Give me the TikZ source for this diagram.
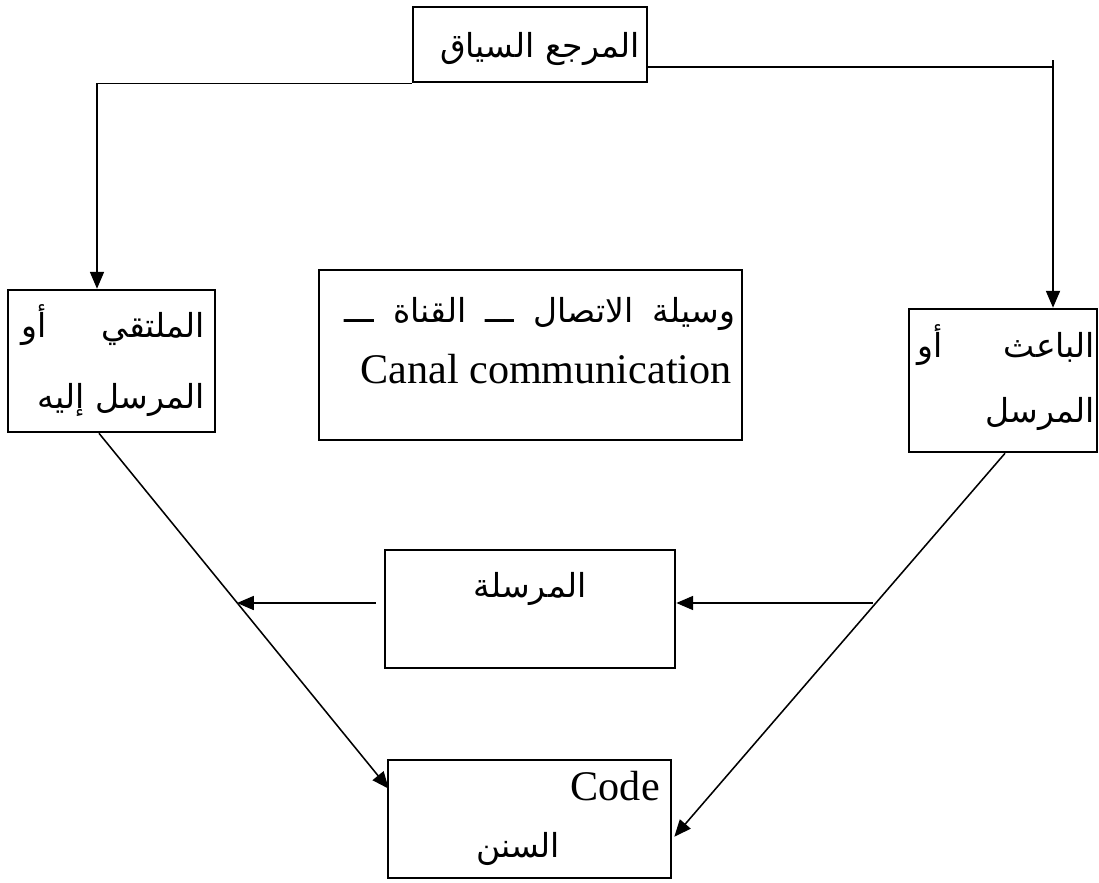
\documentclass[tikz,border=0pt]{standalone}
\usepackage{fontspec}
\setmainfont{Liberation Serif}
\newfontfamily\arabicfont[Script=Arabic]{DejaVu Sans}
\TeXXeTstate=1
\usetikzlibrary{arrows.meta}

\begin{document}
\begin{tikzpicture}[x=0.025cm,y=-0.025cm]
          \tikzstyle{box}=[draw,line width=1.8pt,inner sep=0pt]
          \tikzstyle{edge}=[draw,line width=1.1pt]
          \tikzstyle{aedge}=[edge,-{Triangle[length=12pt,width=10pt]}]
          \tikzstyle{ar}=[font=\arabicfont\fontsize{23.5}{28}\selectfont,inner sep=0pt]
          \tikzstyle{lat}=[font=\fontsize{30}{34}\selectfont,inner sep=0pt]
          \useasboundingbox (0,0) rectangle (1099,882);
          % boxes
          \node[box,minimum width=5.85cm,minimum height=1.875cm] (ctx) at (530,44.5) {};
          \node[box,minimum width=5.175cm,minimum height=3.55cm] (recv) at (111.5,361) {};
          \node[box,minimum width=10.575cm,minimum height=4.25cm] (chan) at (530.5,355) {};
          \node[box,minimum width=4.7cm,minimum height=3.575cm] (send) at (1003,380.5) {};
          \node[box,minimum width=7.25cm,minimum height=2.95cm] (msg) at (530,609) {};
          \node[box,minimum width=7.075cm,minimum height=2.95cm] (code) at (529.5,819) {};
          % texts
          \node[ar,anchor=base] (ctxt) at (540,57) {\beginR المرجع السياق\endR};
          \node[ar,anchor=base] (recv1) at (113.5,337) {\hbox to 4.575cm{\beginR الملتقي\hfill أو\endR}};
          \node[ar,anchor=base east] (recv2) at (205,408) {\beginR المرسل إليه\endR};
          \node[ar,anchor=base] (send1) at (1006.5,357) {\hbox to 4.425cm{\beginR الباعث\hfill أو\endR}};
          \node[ar,anchor=base east] (send2) at (1095,422) {\beginR المرسل\endR};
          \node[ar,anchor=base] (chan1) at (540,322) {\hbox to 9.75cm{\beginR وسيلة\hfill الاتصال\hfill ـــ\hfill القناة\hfill ـــ\endR}};
          \node[lat,anchor=base east] (chan2) at (732,383) {Canal communication};
          \node[ar,anchor=base] (msgt) at (530,597) {\beginR المرسلة\endR};
          \node[lat,anchor=base east] (code1) at (660,800) {Code};
          \node[ar,anchor=base] (code2) at (518,857) {\beginR السنن\endR};
          % connectors
          \coordinate (lt) at (97,0);
          \coordinate (rt) at (1053,67);
          \coordinate (rtop) at (1053,60);
          \coordinate (ml) at (237,603);
          \coordinate (mr) at (873,603);
          \path (msg.west) ++(-8,-6) coordinate (msgl);
          \path (msg.east) ++(0,-6) coordinate (msgr);
          \path (recv.south) ++(-12.5,0) coordinate (recvb);
          \path (send.south) ++(2,0) coordinate (sendb);
          \path (code.north west) ++(2,30) coordinate (codel);
          \path (code.north east) ++(2,78) coordinate (coder);
          \draw[aedge] (ctx.south west) -- (lt |- ctx.south west) -- (lt |- recv.north);
          \draw[edge] (ctx.east |- rt) -- (rt);
          \draw[aedge] (rtop) -- (rtop |- send.north);
          \draw[aedge] (recvb) -- (codel);
          \draw[aedge] (sendb) -- (coder);
          \draw[aedge] (mr) -- (msgr);
          \draw[aedge] (msgl) -- (ml);
        \end{tikzpicture}
\end{document}
